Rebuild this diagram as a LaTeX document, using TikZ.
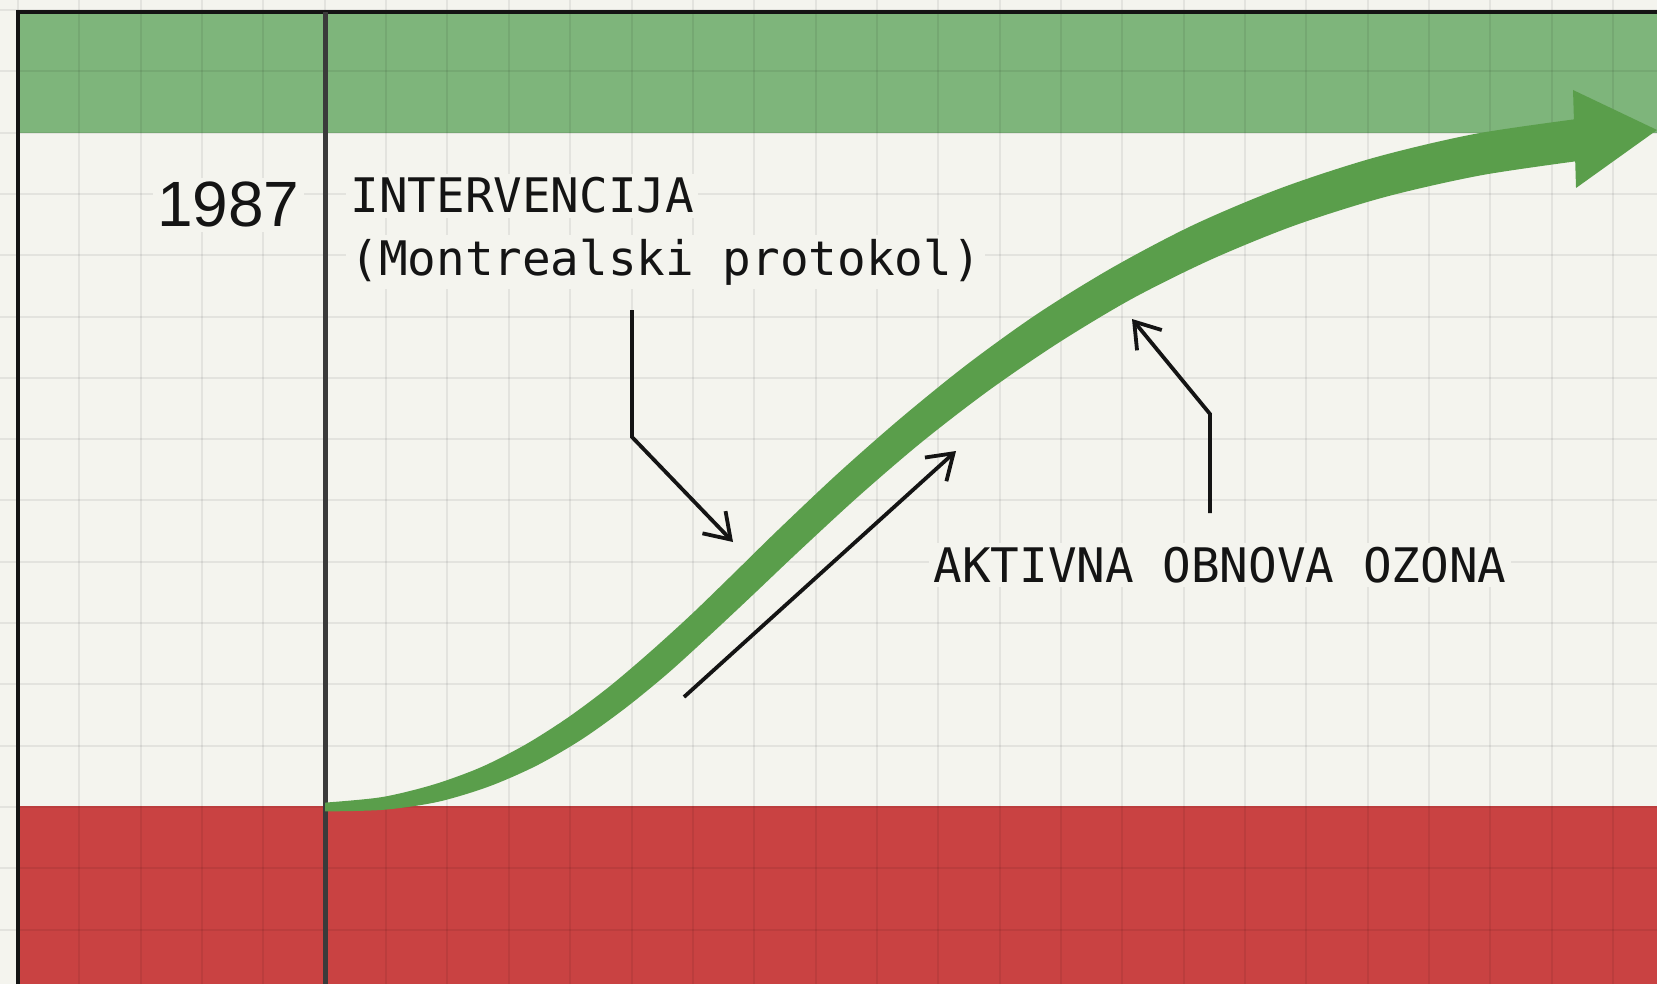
\documentclass[tikz,border=0pt]{standalone}
\usepackage{fontspec}
\newfontfamily\yearfont{Liberation Sans}
\newfontfamily\labelmono{DejaVu Sans Mono}
\usetikzlibrary{arrows.meta,calc}
\definecolor{bgc}{HTML}{F4F4EE}
\definecolor{bandgreen}{HTML}{7EB57B}
\definecolor{bandred}{HTML}{C94242}
\definecolor{curvegreen}{HTML}{5A9E4B}
\definecolor{yearline}{HTML}{3A3A3A}
\definecolor{inkc}{HTML}{141414}
\begin{document}
\begin{tikzpicture}[x=0.5pt,y=-0.5pt,
  gridline/.style={draw=black, opacity=0.065, line width=1pt},
  frameline/.style={draw=inkc, line width=2pt},
  yearrule/.style={draw=yearline, line width=2.5pt},
  pointer/.style={draw=inkc, line width=1.9pt, -{Straight Barb[length=12pt,width=16pt]}},
  monolabel/.style={font=\labelmono\fontsize{23.8}{28}\selectfont, text=inkc, fill=bgc, inner sep=2pt, anchor=base west},
  yearlabel/.style={font=\yearfont\fontsize{32}{38}\selectfont, text=inkc, fill=bgc, inner sep=2pt, anchor=base east},
  sect/.style={sloped, shape=rectangle, inner sep=0pt, minimum width=0pt, minimum height=#1 pt, draw=none}]
\useasboundingbox (0,0) rectangle (1657,984);
\fill[bgc] (0,0) rectangle (1657,984);
% bands
\fill[bandgreen] (18,12) rectangle (1657,133);
\fill[bandred] (18,806) rectangle (1657,984);
% grid
\foreach \k in {0,...,27} \draw[gridline] ({18+61.35*\k},0) -- ({18+61.35*\k},984);
\foreach \k in {0,...,16} \draw[gridline] (0,{10+61.3*\k}) -- (1657,{10+61.3*\k});
% frame and year rule
\coordinate (ftl) at (18,12);
\coordinate (ftr) at (1657,12);
\coordinate (fbl) at (18,984);
\coordinate (yt) at (325,12);
\coordinate (yb) at (325,984);
\draw[frameline] (fbl) -- (ftl) -- (ftr);
\draw[yearrule] (yt) -- (yb);
% tapered curve: centreline sampled with sloped sections
\coordinate (c0) at (325,807);
\coordinate (ca1) at (525,807);
\coordinate (ca2) at (637,686);
\coordinate (cm) at (787,542);
\coordinate (cb1) at (987,350);
\coordinate (cb2) at (1215,178);
\coordinate (ce) at (1585,139);
\path (c0) .. controls (ca1) and (ca2) .. (cm)
  foreach \t/\h [count=\j] in {0/4, 0.1/6, 0.2/8.5, 0.3/10, 0.4/11.5, 0.5/12.5, 0.6/13, 0.7/13.5, 0.8/13.5, 0.9/14, 1/14.5}
  { node[sect=\h, pos=\t] (sa\j) {} };
\path (cm) .. controls (cb1) and (cb2) .. (ce)
  foreach \t/\h [count=\j] in {0.1/15, 0.2/15.5, 0.3/16.5, 0.4/17.5, 0.5/18, 0.6/19, 0.7/19.5, 0.8/20, 0.9/20.5, 1/20.5}
  { node[sect=\h, pos=\t] (sb\j) {} };
\fill[curvegreen] plot[smooth] coordinates {(sa1.north) (sa2.north) (sa3.north) (sa4.north) (sa5.north) (sa6.north) (sa7.north) (sa8.north) (sa9.north) (sa10.north) (sa11.north) (sb1.north) (sb2.north) (sb3.north) (sb4.north) (sb5.north) (sb6.north) (sb7.north) (sb8.north) (sb9.north) (sb10.north)}
  -- plot[smooth] coordinates {(sb10.south) (sb9.south) (sb8.south) (sb7.south) (sb6.south) (sb5.south) (sb4.south) (sb3.south) (sb2.south) (sb1.south) (sa11.south) (sa10.south) (sa9.south) (sa8.south) (sa7.south) (sa6.south) (sa5.south) (sa4.south) (sa3.south) (sa2.south) (sa1.south)} -- cycle;
\coordinate (ahtop) at (1573,90);
\coordinate (ahtip) at (1657,130);
\coordinate (ahbot) at (1576,188);
\fill[curvegreen] (ahtop) -- (ahtip) -- (ahbot) -- cycle;
% labels
\node[yearlabel] (year) at (304,227) {1987};
\node[monolabel] (int1) at (346,213) {INTERVENCIJA};
\node[monolabel] (int2) at (346,275) {(Montrealski protokol)};
\node[monolabel] (akt) at (929,582) {AKTIVNA OBNOVA OZONA};
% pointers
\coordinate (p1s) at (632,310);
\coordinate (p1b) at (632,437);
\coordinate (p1e) at (733,542);
\draw[pointer] (p1s) -- (p1b) -- (p1e);
\coordinate (p2s) at (684,697);
\coordinate (p2e) at (956,451);
\draw[pointer] (p2s) -- (p2e);
\coordinate (p3s) at (1210,513);
\coordinate (p3b) at (1210,414);
\coordinate (p3e) at (1132,319);
\draw[pointer] (p3s) -- (p3b) -- (p3e);
\end{tikzpicture}
\end{document}
